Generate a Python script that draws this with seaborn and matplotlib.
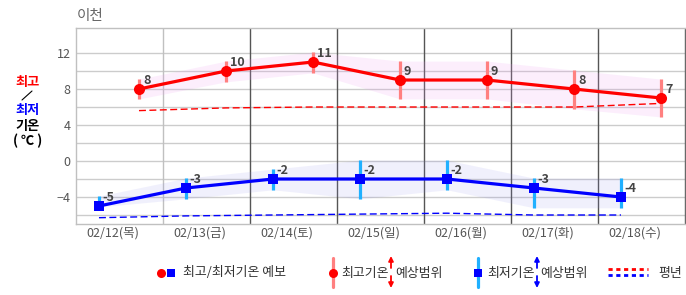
import numpy as np
import pandas as pd
import matplotlib
matplotlib.use("Agg")
import matplotlib.pyplot as plt
from matplotlib.lines import Line2D
import seaborn as sns

# ---------------- data ----------------
dates = ['02/12(목)', '02/13(금)', '02/14(토)', '02/15(일)', '02/16(월)', '02/17(화)', '02/18(수)']
max_temp = [8, 10, 11, 9, 9, 8, 7]
min_temp = [-5, -3, -2, -2, -2, -3, -4]
max_low = [6.9, 8.8, 9.8, 6.9, 6.9, 5.8, 4.9]
max_high = [9.1, 11.1, 12.1, 11.1, 11.1, 10.1, 9.1]
min_low = [-5.1, -4.2, -3.2, -4.2, -3.2, -5.2, -5.2]
min_high = [-3.9, -1.9, -0.9, 0.1, 0.1, -1.9, -1.9]
normal_max = [5.6, 5.9, 6.0, 6.0, 6.0, 6.0, 6.4]
normal_min = [-6.3, -6.1, -6.0, -5.9, -5.8, -6.0, -6.0]
yticks = [-4, 0, 4, 8, 12]

sns.set_style("white")
plt.rcParams['font.family'] = ['Noto Sans CJK KR', 'DejaVu Sans']
plt.rcParams['axes.unicode_minus'] = True

W, H = 686, 295
fig = plt.figure(figsize=(W / 100, H / 100), dpi=100)
ax = fig.add_axes([76 / W, 1 - 224 / H, 610 / W, 196 / H])

def fx(x):
    return x / W

def fy(y):
    return 1 - y / H

day = np.arange(len(dates))
x_max = day + 0.724
x_min = day + 0.264

df = pd.DataFrame({'x_max': x_max, 'x_min': x_min, 'max': max_temp, 'min': min_temp,
                   'max_low': max_low, 'max_high': max_high,
                   'min_low': min_low, 'min_high': min_high,
                   'nmax': normal_max, 'nmin': normal_min})

# axes limits / grid
ax.set_xlim(0, 610 / 87)
ax.set_ylim(-7.0, 14.78)
for s in ax.spines.values():
    s.set_color('#c0c0c0')
    s.set_linewidth(1)
for g in [-6, -2, 2, 6, 10] + yticks:
    ax.axhline(g, color='#cccccc', lw=1, zorder=0.5)
for d in range(1, 8):
    ax.axvline(d, color='#c0c0c0' if d == 1 else '#555555', lw=1, zorder=0.6)

# bands
ax.fill_between(df['x_max'], df['max_low'], df['max_high'], color='#ee9cf2', alpha=0.17, lw=0, zorder=1)
ax.fill_between(df['x_min'], df['min_low'], df['min_high'], color='#8a8aee', alpha=0.12, lw=0, zorder=1)

# normals
sns.lineplot(data=df, x='x_max', y='nmax', ax=ax, color='#ff0000', lw=1.0,
             dashes=False, linestyle=(0, (5, 2.5)), zorder=2)
sns.lineplot(data=df, x='x_min', y='nmin', ax=ax, color='#0000ff', lw=1.0,
             dashes=False, linestyle=(0, (5, 2.5)), zorder=2)

# range bars
ax.vlines(df['x_max'], df['max_low'], df['max_high'], color='#ff8080', lw=2.3, zorder=3)
ax.vlines(df['x_min'], df['min_low'], df['min_high'], color='#20b0ff', lw=2.3, zorder=3)

# main lines
sns.lineplot(data=df, x='x_max', y='max', ax=ax, color='#ff0000', lw=2.3,
             marker='o', markersize=8, markeredgewidth=0, zorder=4)
sns.lineplot(data=df, x='x_min', y='min', ax=ax, color='#0000ff', lw=2.3,
             marker='s', markersize=7.5, markeredgewidth=0, zorder=4)

for xv, v in zip(df['x_max'], max_temp):
    ax.annotate(str(v), (xv, v), xytext=(4, 9), textcoords='offset pixels',
                ha='left', va='center', fontsize=9, fontweight='bold', color='#444444', zorder=5)
for xv, v in zip(df['x_min'], min_temp):
    ax.annotate(str(v), (xv, v), xytext=(3, 9), textcoords='offset pixels',
                ha='left', va='center', fontsize=9, fontweight='bold', color='#444444', zorder=5)

ax.set_xlabel('')
ax.set_ylabel('')
ax.set_yticks(yticks)
ax.set_yticklabels([('\u2212' + str(-t)) if t < 0 else str(t) for t in yticks])
ax.set_xticks(day + 0.425)
ax.set_xticklabels(dates)
ax.tick_params(axis='both', length=0, labelsize=9, labelcolor='#555555')
ax.tick_params(axis='y', pad=4)
ax.tick_params(axis='x', pad=2)

# title
fig.text(fx(77), fy(16), '이천', fontsize=10.5, color='#666666', ha='left', va='center')

# y label
fig.text(fx(28), fy(82), '최고', color='#ff0000', fontsize=9.5, fontweight='bold', ha='center', va='center')
fig.add_artist(Line2D([fx(22), fx(32)], [fy(100), fy(91)], color='black', lw=0.8))
fig.text(fx(28), fy(110), '최저', color='#0000ff', fontsize=9.5, fontweight='bold', ha='center', va='center')
fig.text(fx(28), fy(126), '기온', color='black', fontsize=9.5, fontweight='bold', ha='center', va='center')
fig.text(fx(28), fy(141), '( ℃ )', color='black', fontsize=9.5, fontweight='bold', ha='center', va='center')

# legend
ly = 273
fs = 9.3
fig.add_artist(Line2D([fx(161)], [fy(ly)], marker='o', color='#ff0000', markersize=6.5, markeredgewidth=0, lw=0))
fig.add_artist(Line2D([fx(171)], [fy(ly)], marker='s', color='#0000ff', markersize=6, markeredgewidth=0, lw=0))
fig.text(fx(183), fy(ly), '최고/최저기온 예보', fontsize=fs, color='#333333', ha='left', va='center')

fig.add_artist(Line2D([fx(333), fx(333)], [fy(258), fy(287)], color='#ff8080', lw=2.3))
fig.add_artist(Line2D([fx(333)], [fy(ly)], marker='o', color='#ff0000', markersize=6.5, markeredgewidth=0, lw=0))
fig.text(fx(341), fy(ly), '최고기온', fontsize=fs, color='#333333', ha='left', va='center')
fig.text(fx(395), fy(ly), '예상범위', fontsize=fs, color='#333333', ha='left', va='center')

fig.add_artist(Line2D([fx(478), fx(478)], [fy(258), fy(287)], color='#20b0ff', lw=2.3))
fig.add_artist(Line2D([fx(478)], [fy(ly)], marker='s', color='#0000ff', markersize=6, markeredgewidth=0, lw=0))
fig.text(fx(487), fy(ly), '최저기온', fontsize=fs, color='#333333', ha='left', va='center')
fig.text(fx(540), fy(ly), '예상범위', fontsize=fs, color='#333333', ha='left', va='center')

for xa, col in [(391, '#ff0000'), (537, '#0000ff')]:
    ax.annotate('', xy=(xa, H - 256), xytext=(xa, H - 268), xycoords='figure pixels',
                textcoords='figure pixels',
                arrowprops=dict(arrowstyle='-|>', color=col, lw=1.3, mutation_scale=7,
                                shrinkA=0, shrinkB=0), annotation_clip=False)
    ax.annotate('', xy=(xa, H - 288), xytext=(xa, H - 276), xycoords='figure pixels',
                textcoords='figure pixels',
                arrowprops=dict(arrowstyle='-|>', color=col, lw=1.3, mutation_scale=7,
                                shrinkA=0, shrinkB=0), annotation_clip=False)

fig.add_artist(Line2D([fx(608), fx(648)], [fy(269), fy(269)], color='#ff0000', lw=2, linestyle=(0, (1.5, 1.3))))
fig.add_artist(Line2D([fx(608), fx(648)], [fy(275), fy(275)], color='#0000ff', lw=2, linestyle=(0, (1.5, 1.3))))
fig.text(fx(658), fy(ly), '평년', fontsize=fs, color='#333333', ha='left', va='center')

fig.savefig('out.png', dpi=100)
